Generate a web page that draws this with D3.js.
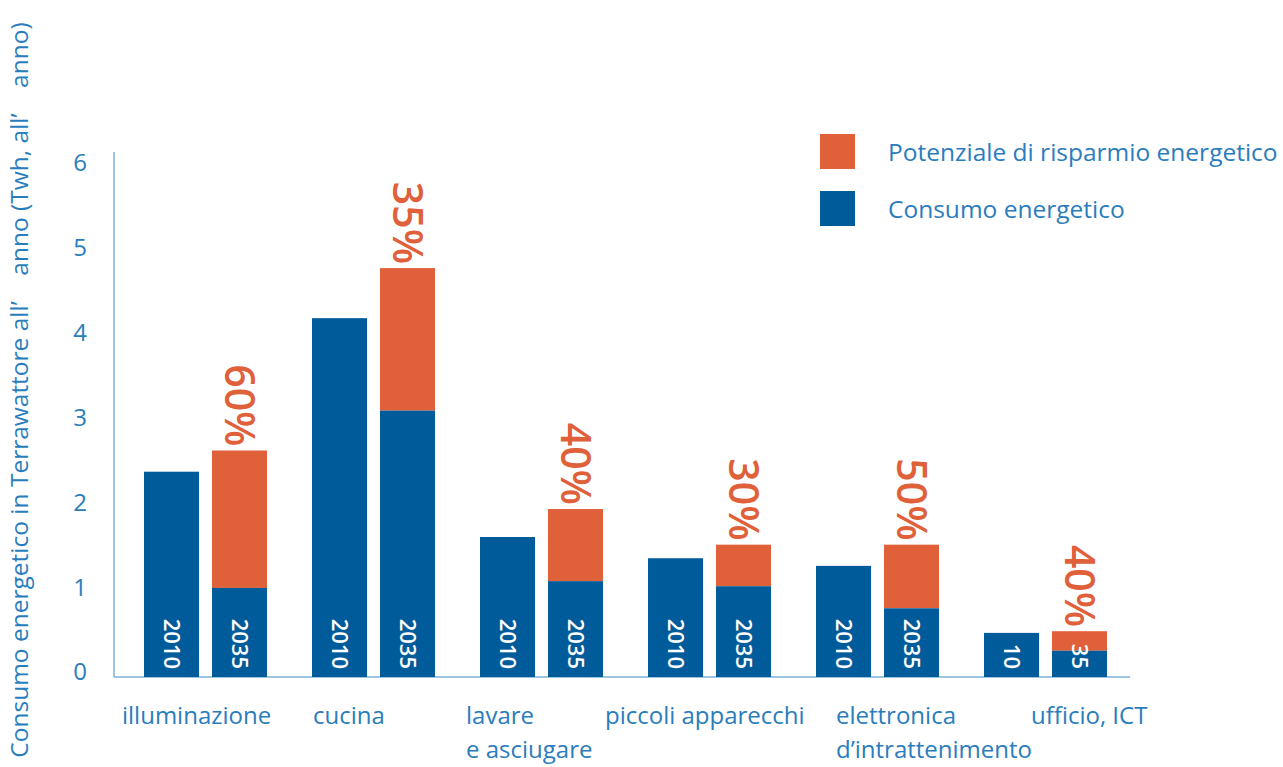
<!DOCTYPE html>
<html>
<head>
<meta charset="utf-8">
<script src="https://cdn.jsdelivr.net/npm/d3@7"></script>
<style>
  body { margin: 0; background: #fff; }
  text { font-family: "Open Sans", sans-serif; white-space: pre; }
</style>
</head>
<body>
<svg width="1283" height="767"></svg>
<script>
var categories = ["illuminazione", "cucina", "lavare|e asciugare", "piccoli apparecchi", "elettronica|d\u2019intrattenimento", "ufficio, ICT"]
var consumo2010 = [2.42, 4.23, 1.65, 1.40, 1.31, 0.52]
var consumo2035 = [1.05, 3.14, 1.13, 1.07, 0.81, 0.31]
var totale2035 = [2.67, 4.82, 1.98, 1.56, 1.56, 0.54]
var risparmio = ["60%", "35%", "40%", "30%", "50%", "40%"]
var yearLabels2010 = ["2010", "2010", "2010", "2010", "2010", "10"]
var yearLabels2035 = ["2035", "2035", "2035", "2035", "2035", "35"]
var yTicks = [0, 1, 2, 3, 4, 5, 6]

var blue = "#005b9a"
var orange = "#e0603a"
var txt = "#2a7dbd"
var axisCol = "#7fb0d8"

var svg = d3.select("svg")

var y = d3.scaleLinear().domain([0, 6]).range([677, 168])
var x = d3.scaleBand().domain(d3.range(categories.length)).range([144, 144 + 168*6])
var bw = 55, gap = 13

// axis lines
svg.append("line").attr("x1", 114).attr("x2", 114).attr("y1", 152).attr("y2", y(0))
    .attr("stroke", axisCol).attr("stroke-width", 1.5)
svg.append("line").attr("x1", 114).attr("x2", 1130).attr("y1", y(0)).attr("y2", y(0))
    .attr("stroke", axisCol).attr("stroke-width", 1.5)

// y tick labels
svg.selectAll(".ytick").data(yTicks).enter().append("text")
    .attr("x", 80).attr("y", d => y(d) - 5).attr("dy", "0.35em")
    .attr("text-anchor", "middle").attr("fill", txt).attr("font-size", 24)
    .text(d => d)

// y title
svg.append("text")
    .attr("transform", "translate(28,390) rotate(-90)")
    .attr("text-anchor", "middle").attr("fill", txt).attr("font-size", 24.5)
    .text("Consumo energetico in Terrawattore all\u2019    anno (Twh, all\u2019    anno)")

var g = svg.selectAll(".grp").data(categories).enter().append("g")
    .attr("transform", (d, i) => "translate(" + x(i) + ",0)")

// 2010 bars
g.append("rect").attr("x", 0).attr("width", bw)
    .attr("y", (d, i) => y(consumo2010[i])).attr("height", (d, i) => y(0) - y(consumo2010[i]))
    .attr("fill", blue)
// 2035 savings (orange) then consumption
g.append("rect").attr("x", bw + gap).attr("width", bw)
    .attr("y", (d, i) => y(totale2035[i])).attr("height", (d, i) => y(consumo2035[i]) - y(totale2035[i]))
    .attr("fill", orange)
g.append("rect").attr("x", bw + gap).attr("width", bw)
    .attr("y", (d, i) => y(consumo2035[i])).attr("height", (d, i) => y(0) - y(consumo2035[i]))
    .attr("fill", blue)

// year labels inside bars
g.append("text")
    .attr("transform", "translate(" + (bw/2) + "," + (y(0) - 8) + ") rotate(90)")
    .attr("text-anchor", "end").attr("dy", "0.35em").attr("fill", "#fff")
    .attr("font-size", 22).attr("font-weight", 600)
    .text((d, i) => yearLabels2010[i])
g.append("text")
    .attr("transform", "translate(" + (bw + gap + bw/2) + "," + (y(0) - 8) + ") rotate(90)")
    .attr("text-anchor", "end").attr("dy", "0.35em").attr("fill", "#fff")
    .attr("font-size", 22).attr("font-weight", 600)
    .text((d, i) => yearLabels2035[i])

// percentage labels
g.append("text")
    .attr("transform", (d, i) => "translate(" + (bw + gap + bw/2) + "," + (y(totale2035[i]) - 4) + ") rotate(90)")
    .attr("text-anchor", "end").attr("dy", "0.35em").attr("fill", orange)
    .attr("font-size", 41).attr("font-weight", 600)
    .text((d, i) => risparmio[i])

// category labels
var xlab = [-22, 1, -14, -43, 20, 47]
g.append("text")
    .attr("x", (d, i) => xlab[i]).attr("y", 724)
    .attr("fill", txt).attr("font-size", 24)
    .each(function(d) {
        var parts = d.split("|")
        var t = d3.select(this)
        parts.forEach(function(p, k) {
            t.append("tspan").attr("x", t.attr("x")).attr("dy", k ? 34 : 0).text(p)
        })
    })

// legend
var legend = [["Potenziale di risparmio energetico", orange], ["Consumo energetico", blue]]
var lg = svg.selectAll(".lg").data(legend).enter().append("g")
    .attr("transform", (d, i) => "translate(820," + (134 + i*57) + ")")
lg.append("rect").attr("width", 35).attr("height", 35).attr("fill", d => d[1])
lg.append("text").attr("x", 68).attr("y", 18).attr("dy", "0.35em")
    .attr("fill", txt).attr("font-size", 24.5).text(d => d[0])
</script>
</body>
</html>
